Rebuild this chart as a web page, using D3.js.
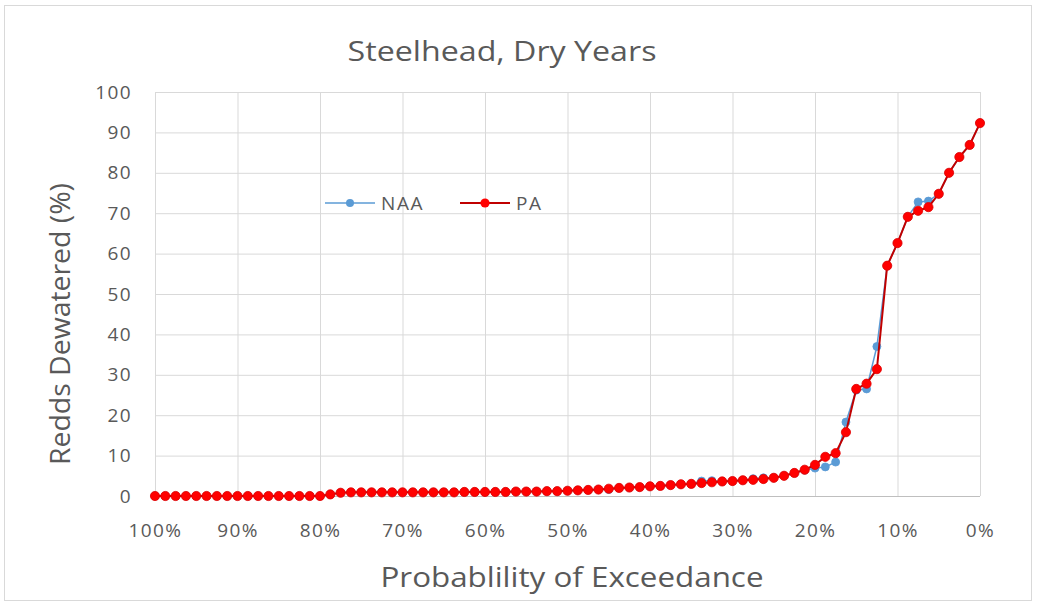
<!DOCTYPE html>
<html><head><meta charset="utf-8">
<script src="https://cdn.jsdelivr.net/npm/d3@7"></script>
<style>
body{margin:0;background:#fff;}
svg{display:block;}
text{font-family:"Open Sans","Liberation Sans",sans-serif;fill:#595959;}
</style></head>
<body><svg id="c" width="1039" height="605"></svg>
<script>
const title = "Steelhead, Dry Years";
const xTitle = "Probablility of Exceedance";
const yTitle = "Redds Dewatered (%)";
const seriesNames = ["NAA", "PA"];
const exceedance = [0,1.25,2.5,3.75,5,6.25,7.5,8.75,10,11.25,12.5,13.75,15,16.25,17.5,18.75,20,21.25,22.5,23.75,25,26.25,27.5,28.75,30,31.25,32.5,33.75,35,36.25,37.5,38.75,40,41.25,42.5,43.75,45,46.25,47.5,48.75,50,51.25,52.5,53.75,55,56.25,57.5,58.75,60,61.25,62.5,63.75,65,66.25,67.5,68.75,70,71.25,72.5,73.75,75,76.25,77.5,78.75,80,81.25,82.5,83.75,85,86.25,87.5,88.75,90,91.25,92.5,93.75,95,96.25,97.5,98.75,100];
const paValues = [92.3,86.9,83.9,80.0,74.8,71.5,70.6,69.1,62.6,57.0,31.4,27.8,26.5,15.8,10.6,9.7,7.7,6.5,5.7,5.0,4.5,4.2,4.0,3.9,3.7,3.6,3.4,3.2,3.0,2.9,2.7,2.5,2.4,2.2,2.1,2.0,1.8,1.6,1.5,1.4,1.3,1.2,1.2,1.1,1.1,1.1,1.0,1.0,1.0,1.0,1.0,0.9,0.9,0.9,0.9,0.9,0.9,0.9,0.9,0.9,0.9,0.9,0.8,0.4,0,0,0,0,0,0,0,0,0,0,0,0,0,0,0,0,0];
const naaValues = [92.3,86.9,83.9,80.0,74.8,73.0,72.8,69.1,62.6,57.0,37.0,26.5,26.2,18.3,8.4,7.2,6.9,6.4,5.7,5.0,4.5,4.5,4.3,3.9,3.7,3.6,3.8,3.7,3.0,2.9,2.7,2.5,2.4,2.2,2.1,2.0,1.6,1.6,1.5,1.4,1.3,1.2,1.2,1.1,1.1,1.1,1.0,1.0,1.0,1.0,1.0,0.9,0.9,0.9,0.9,0.9,0.9,0.9,0.9,0.9,0.9,0.9,0.8,0.4,0,0,0,0,0,0,0,0,0,0,0,0,0,0,0,0,0];
const yTicks = [0,10,20,30,40,50,60,70,80,90,100];
const xTicks = [100,90,80,70,60,50,40,30,20,10,0];

const svg = d3.select("#c");
svg.append("rect").attr("x",4.5).attr("y",5.5).attr("width",1027).attr("height",595)
  .attr("fill","#fff").attr("stroke","#d9d9d9");

const L=155,R=980,T=92,B=496;
const x = d3.scaleLinear().domain([100,0]).range([L,R]);
const y = d3.scaleLinear().domain([0,100]).range([B,T]);

// grid
svg.append("g").selectAll("line").data(yTicks).join("line")
  .attr("x1",L).attr("x2",R).attr("y1",d=>y(d)+0.5).attr("y2",d=>y(d)+0.5)
  .attr("stroke",d=>d===0?"#bfbfbf":"#d9d9d9").attr("stroke-width",1);
svg.append("g").selectAll("line").data(xTicks).join("line")
  .attr("y1",T).attr("y2",B).attr("x1",d=>x(d)+0.5).attr("x2",d=>x(d)+0.5)
  .attr("stroke","#d9d9d9").attr("stroke-width",1);

// axes labels via d3 axes
const yAxis = svg.append("g").attr("transform",`translate(${L},0)`)
  .call(d3.axisLeft(y).tickValues(yTicks).tickSize(0).tickPadding(23));
const xAxis = svg.append("g").attr("transform",`translate(0,${B})`)
  .call(d3.axisBottom(x).tickValues(xTicks).tickFormat(d=>d+"%").tickSize(0).tickPadding(28));
[yAxis,xAxis].forEach(g=>{g.select(".domain").remove();
  g.selectAll("text").style("font-size","19px").style("letter-spacing","1.4px").attr("fill","#595959");});

// titles
svg.append("text").attr("x",502).attr("y",61).attr("text-anchor","middle")
  .style("font-size","27px").attr("textLength",309).attr("lengthAdjust","spacingAndGlyphs").text(title);
svg.append("text").attr("x",572).attr("y",587).attr("text-anchor","middle")
  .style("font-size","27px").attr("textLength",383).attr("lengthAdjust","spacingAndGlyphs").text(xTitle);
svg.append("text").attr("transform","translate(70,324) rotate(-90)").attr("text-anchor","middle")
  .style("font-size","27px").attr("textLength",282).attr("lengthAdjust","spacingAndGlyphs").text(yTitle);

const colors = {NAA:{line:"#5b9bd5",pt:"#5b9bd5",w:1.5}, PA:{line:"#c00000",pt:"#ff0000",w:2}};
const data = {NAA:naaValues, PA:paValues};
const line = d3.line().x((d,i)=>x(exceedance[i])).y(d=>y(d));
seriesNames.forEach(s=>{
  const c = colors[s];
  svg.append("path").datum(data[s]).attr("d",line).attr("fill","none")
    .attr("stroke",c.line).attr("stroke-width",c.w);
  svg.append("g").selectAll("circle").data(data[s]).join("circle")
    .attr("cx",(d,i)=>x(exceedance[i])).attr("cy",d=>y(d)).attr("r",s==="PA"?4.6:4)
    .attr("fill",c.pt).attr("stroke",s==="PA"?"#e00000":c.pt).attr("stroke-width",0.8);
});

// legend
const leg = svg.append("g");
const legItems = [{name:"NAA",x0:325},{name:"PA",x0:460}];
legItems.forEach(it=>{
  const c = colors[it.name];
  leg.append("line").attr("x1",it.x0).attr("x2",it.x0+50).attr("y1",203).attr("y2",203)
    .attr("stroke",c.line).attr("stroke-width",c.w);
  leg.append("circle").attr("cx",it.x0+25).attr("cy",203).attr("r",it.name==="PA"?4.6:4).attr("fill",c.pt);
  leg.append("text").attr("x",it.x0+56).attr("y",210).style("font-size","19px").style("letter-spacing","1.6px").text(it.name);
});
</script></body></html>
